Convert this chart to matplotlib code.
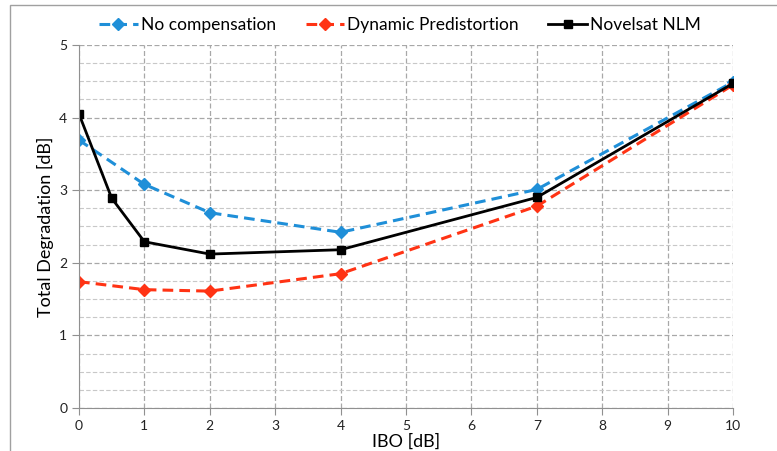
import matplotlib.pyplot as plt
from matplotlib.patches import Rectangle
from matplotlib.ticker import MultipleLocator

plt.rcParams['font.family'] = ['Lato', 'DejaVu Sans']

# IBO points for each curve
ibo_std = [0, 1, 2, 4, 7, 10]
ibo_nlm = [0, 0.5, 1, 2, 4, 7, 10]

no_comp = [3.69, 3.08, 2.69, 2.42, 3.01, 4.49]
dyn_pred = [1.74, 1.63, 1.61, 1.85, 2.78, 4.45]
novelsat = [4.05, 2.89, 2.29, 2.12, 2.18, 2.90, 4.47]

fig = plt.figure(figsize=(7.77, 4.51), dpi=100)
ax = fig.add_axes([79 / 777, 1 - 408 / 451, (733 - 79) / 777, (408 - 45) / 451])

# outer chart border
fig.patches.append(Rectangle((10 / 777, -0.05), 1.1, 1 - 5 / 451 + 0.05,
                             transform=fig.transFigure, fill=False,
                             edgecolor='#a0a0a0', linewidth=1.0))

ax.plot(ibo_std, no_comp, color='#1f8fd8', linestyle=(0, (3.5, 2)), linewidth=2.2,
        marker='D', markersize=6, label='No compensation')
ax.plot(ibo_std, dyn_pred, color='#ff3314', linestyle=(0, (3.5, 2)), linewidth=2.2,
        marker='D', markersize=6, label='Dynamic Predistortion')
ax.plot(ibo_nlm, novelsat, color='black', linewidth=2.0,
        marker='s', markersize=5.5, label='Novelsat NLM')

ax.set_xlim(0, 10)
ax.set_ylim(0, 5)
ax.xaxis.set_major_locator(MultipleLocator(1))
ax.yaxis.set_major_locator(MultipleLocator(1))
ax.yaxis.set_minor_locator(MultipleLocator(0.25))

ax.grid(which='major', color='#a8a8a8', linestyle=(0, (4, 2)), linewidth=0.9)
ax.grid(which='minor', axis='y', color='#c8c8c8', linestyle=(0, (4, 2)), linewidth=0.8)
ax.set_axisbelow(True)

for side in ['top', 'right']:
    ax.spines[side].set_visible(False)
for side in ['left', 'bottom']:
    ax.spines[side].set_color('#909090')
ax.tick_params(which='major', length=5, color='#909090', labelsize=10, labelcolor='#222222')
ax.tick_params(which='minor', length=0)

ax.set_xlabel('IBO [dB]', fontsize=13, labelpad=1)
ax.set_ylabel('Total Degradation [dB]', fontsize=13, labelpad=4)

fig.legend(loc='center', bbox_to_anchor=(0.515, 1 - 25 / 451), ncol=3, frameon=False,
           fontsize=12.5, handlelength=2.2, handletextpad=0.2, columnspacing=1.7)

fig.savefig('out.png', dpi=100)
